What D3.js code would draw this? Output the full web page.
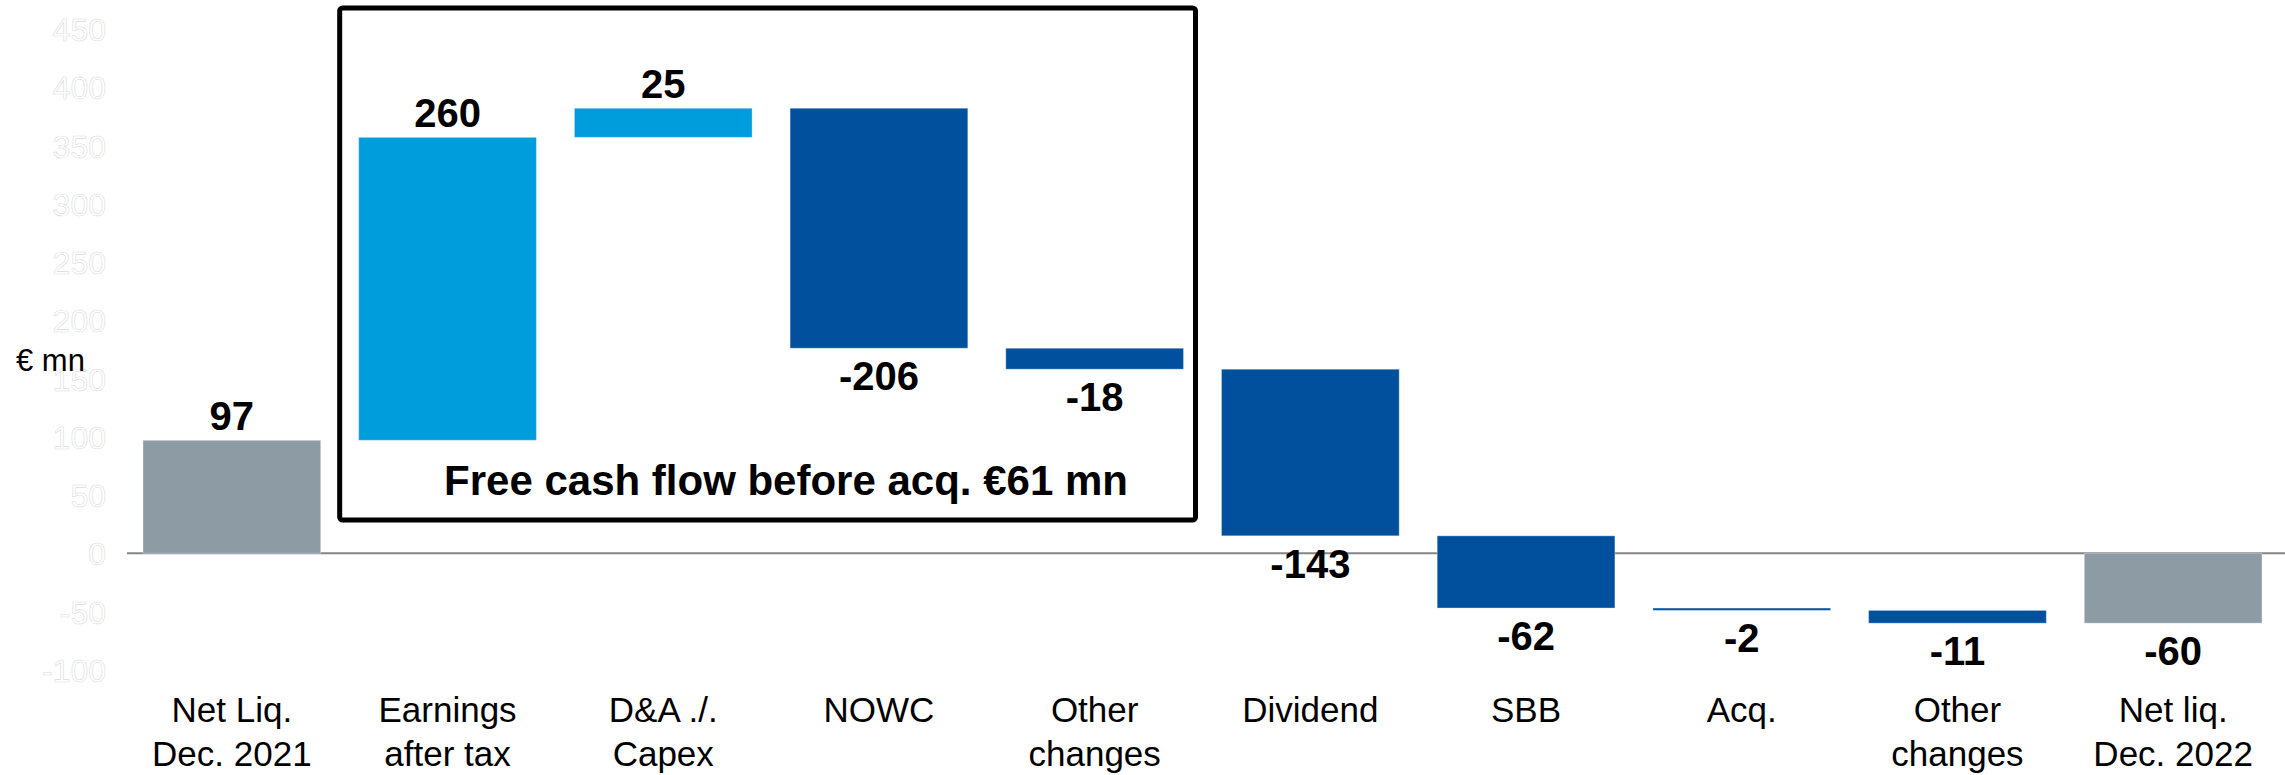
<!DOCTYPE html>
<html>
<head>
<meta charset="utf-8">
<script src="https://cdn.jsdelivr.net/npm/d3@7"></script>
<style>
  body { margin: 0; background: #fff; }
  svg text { font-family: "Liberation Sans", Arial, sans-serif; }
</style>
</head>
<body>
<div id="frame"></div>
<script>
// data
const labelLines = [
    ["Net Liq.", "Dec. 2021"],
    ["Earnings", "after tax"],
    ["D&A ./.", "Capex"],
    ["NOWC"],
    ["Other", "changes"],
    ["Dividend"],
    ["SBB"],
    ["Acq."],
    ["Other", "changes"],
    ["Net liq.", "Dec. 2022"]
];
const values = [97, 260, 25, -206, -18, -143, -62, -2, -11, -60];
const kinds = ["total", "inflow", "inflow", "outflow", "outflow", "outflow", "outflow", "outflow", "outflow", "total"];
const yTicks = [-100, -50, 0, 50, 100, 150, 200, 250, 300, 350, 400, 450];
const unitLabel = "€ mn";
const boxText = "Free cash flow before acq. €61 mn";
const boxFirst = 1, boxLast = 4;

const width = 2285;
const height = 775;

let svg = d3.select("#frame")
        .append("svg")
        .attr("width", width)
        .attr("height", height);

// running totals for the waterfall
let bars = [];
let running = 0;
values.forEach((v, i) => {
    let start, end;
    if (kinds[i] === "total") {
        start = 0; end = v; running = v;
    } else {
        start = running; end = running + v; running = end;
    }
    bars.push({i: i, value: v, kind: kinds[i], start: start, end: end, lines: labelLines[i]});
});

let x = d3.scaleBand()
        .domain(d3.range(values.length))
        .range([124, 2281])
        .paddingInner(0.176)
        .paddingOuter(0.088);

let y = d3.scaleLinear()
        .domain([-100, 450])
        .range([669.8, 29]);

let color = d3.scaleOrdinal()
        .domain(["total", "inflow", "outflow"])
        .range(["#8d9ba5", "#009ddc", "#00509e"]);

// y axis (white labels with faint outline)
let yAxis = d3.axisLeft(y)
        .tickValues(yTicks)
        .tickFormat(d => String(d))
        .tickSize(0)
        .tickPadding(0);

let yg = svg.append("g")
        .attr("transform", "translate(106,0)")
        .call(yAxis);
yg.select(".domain").remove();
yg.selectAll("text")
        .attr("dy", "0.36em")
        .style("font-size", "32px")
        .style("font-family", "\"Liberation Sans\", Arial, sans-serif")
        .attr("fill", "#fff")
        .attr("stroke", "#dcdcdc")
        .attr("stroke-width", 0.6);

svg.append("text")
        .attr("x", 16)
        .attr("y", 371)
        .style("font-size", "31px")
        .attr("fill", "#000")
        .text(unitLabel);

// zero line
svg.append("line")
        .attr("x1", 127)
        .attr("x2", width)
        .attr("y1", y(0))
        .attr("y2", y(0))
        .attr("stroke", "#858585")
        .attr("stroke-width", 2);

// highlight box around the free cash flow items
let boxX1 = x(boxFirst) - 19;
let boxX2 = x(boxLast) + x.bandwidth() + 12;
svg.append("rect")
        .attr("x", boxX1)
        .attr("y", 8)
        .attr("width", boxX2 - boxX1)
        .attr("height", 512)
        .attr("rx", 3)
        .attr("fill", "none")
        .attr("stroke", "#000")
        .attr("stroke-width", 5);

svg.append("text")
        .attr("x", 786)
        .attr("y", 495)
        .attr("text-anchor", "middle")
        .style("font-size", "42px")
        .style("font-weight", "bold")
        .text(boxText);

// bars
svg.selectAll("rect.bar")
        .data(bars)
        .enter()
        .append("rect")
        .attr("class", "bar")
        .attr("x", d => x(d.i))
        .attr("y", d => y(Math.max(d.start, d.end)))
        .attr("width", x.bandwidth())
        .attr("height", d => Math.max(1.5, Math.abs(y(d.start) - y(d.end))))
        .attr("fill", d => color(d.kind))
        .attr("stroke", "rgba(255,255,255,0.35)")
        .attr("stroke-width", 1);

// value labels
svg.selectAll("text.val")
        .data(bars)
        .enter()
        .append("text")
        .attr("class", "val")
        .attr("x", d => x(d.i) + x.bandwidth() / 2)
        .attr("y", d => d.value >= 0 ? y(Math.max(d.start, d.end)) - 10 : y(Math.min(d.start, d.end)) + 42)
        .attr("text-anchor", "middle")
        .style("font-size", "40px")
        .style("font-weight", "bold")
        .attr("fill", "#000")
        .text(d => String(d.value));

// category labels
let cat = svg.selectAll("text.cat")
        .data(bars)
        .enter()
        .append("text")
        .attr("class", "cat")
        .attr("text-anchor", "middle")
        .style("font-size", "35px")
        .attr("fill", "#000");

cat.selectAll("tspan")
        .data(d => d.lines.map(l => ({line: l, i: d.i})))
        .enter()
        .append("tspan")
        .attr("x", d => x(d.i) + x.bandwidth() / 2)
        .attr("y", (d, k) => 722 + k * 44)
        .text(d => d.line);
</script>
</body>
</html>
